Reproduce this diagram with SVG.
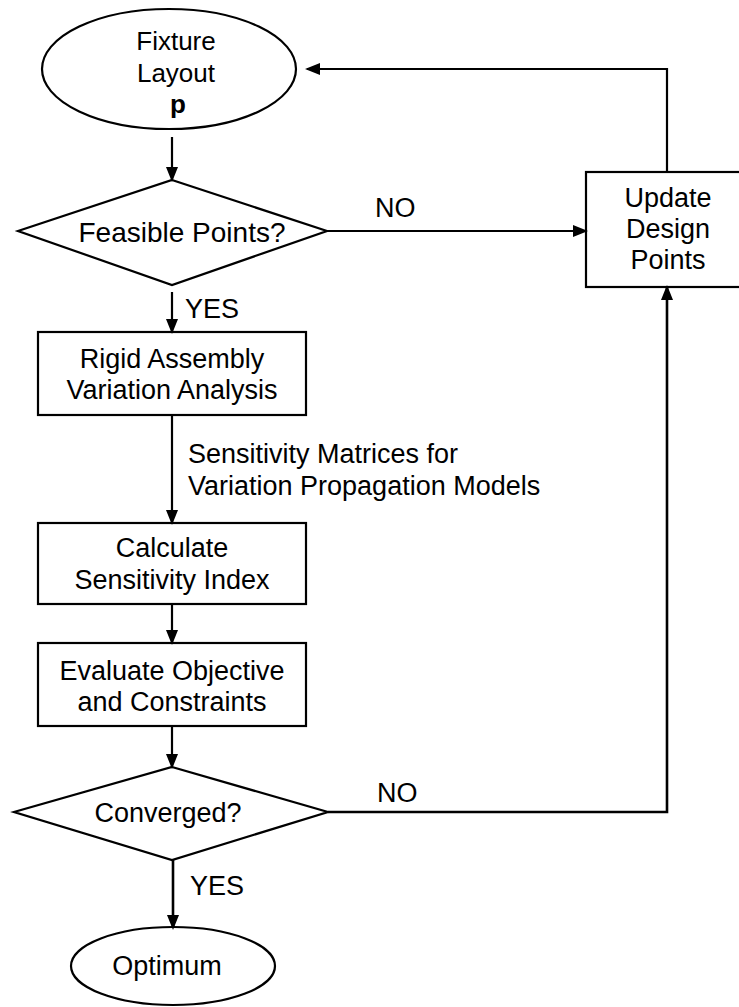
<svg xmlns="http://www.w3.org/2000/svg" width="739" height="1007" viewBox="0 0 739 1007">
<style>
.shape{fill:#fff;stroke:#000;stroke-width:2.2}
.t{font-family:"Liberation Sans",Arial,sans-serif;font-size:27px;fill:#000}
.c{text-anchor:middle}
.conn path{fill:none;stroke:#000;stroke-width:2.2}
</style>
<defs>
<marker id="ah" viewBox="0 0 15 12" refX="13" refY="6" markerWidth="15" markerHeight="12" markerUnits="userSpaceOnUse" orient="auto">
<path d="M0,0 L15,6 L0,12 z" fill="#000"/>
</marker>
</defs>
<rect width="739" height="1007" fill="#fff"/>

<g id="fixture">
<ellipse class="shape" cx="169" cy="69" rx="127" ry="60"/>
<text class="t c" x="176" y="50" style="font-size:26px">Fixture</text>
<text class="t c" x="176" y="82" style="font-size:26px">Layout</text>
<text class="t c" x="178" y="113" style="font-size:26px;font-weight:bold">p</text>
</g>

<g id="feasible">
<polygon class="shape" points="172,180 327,231 172,285 18,231"/>
<text class="t c" x="182" y="242" style="font-size:28px">Feasible Points?</text>
</g>

<g id="update">
<rect class="shape" x="586" y="172" width="170" height="115"/>
<text class="t c" x="668" y="207">Update</text>
<text class="t c" x="668" y="238">Design</text>
<text class="t c" x="668" y="269">Points</text>
</g>

<g id="rigid">
<rect class="shape" x="38" y="332" width="268" height="83"/>
<text class="t c" x="172" y="368">Rigid Assembly</text>
<text class="t c" x="172" y="399">Variation Analysis</text>
</g>

<g id="calculate">
<rect class="shape" x="38" y="523" width="268" height="81"/>
<text class="t c" x="172" y="557">Calculate</text>
<text class="t c" x="172" y="589">Sensitivity Index</text>
</g>

<g id="evaluate">
<rect class="shape" x="38" y="643" width="268" height="83"/>
<text class="t c" x="172" y="680">Evaluate Objective</text>
<text class="t c" x="172" y="711">and Constraints</text>
</g>

<g id="converged">
<polygon class="shape" points="172,767 328,812 172,860 14,812"/>
<text class="t c" x="168" y="822">Converged?</text>
</g>

<g id="optimum">
<ellipse class="shape" cx="173" cy="966" rx="102" ry="39"/>
<text class="t c" x="167" y="975">Optimum</text>
</g>

<g id="connectors" class="conn">
<path d="M172,137 V180" marker-end="url(#ah)"/>
<path d="M172,292 V332" marker-end="url(#ah)"/>
<path d="M172,415 V523" marker-end="url(#ah)"/>
<path d="M172,604 V643" marker-end="url(#ah)"/>
<path d="M172,726 V767" marker-end="url(#ah)"/>
<path d="M173,860 V928" marker-end="url(#ah)" style="stroke-width:2.6"/>
<path d="M327,231 H586" marker-end="url(#ah)"/>
<path d="M328,812 H667 V287" marker-end="url(#ah)" style="stroke-width:2.6"/>
<path d="M667,172 V69 H307" marker-end="url(#ah)"/>
</g>

<g id="labels">
<text class="t" x="185" y="318">YES</text>
<text class="t" x="375" y="217">NO</text>
<text class="t" x="188" y="463">Sensitivity Matrices for</text>
<text class="t" x="188" y="495">Variation Propagation Models</text>
<text class="t" x="377" y="802">NO</text>
<text class="t" x="190" y="895">YES</text>
</g>
</svg>
